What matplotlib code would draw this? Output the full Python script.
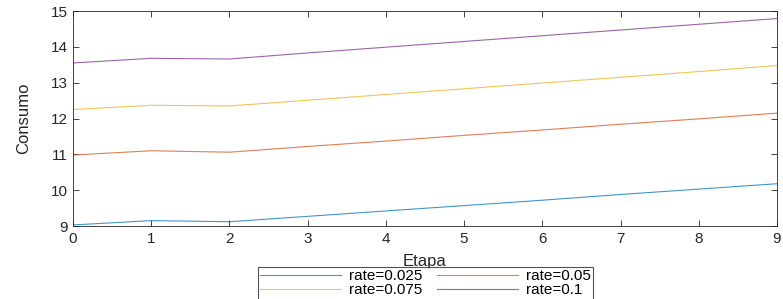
import matplotlib
matplotlib.use("Agg")
import matplotlib.pyplot as plt

etapa = [0, 1, 2, 3, 4, 5, 6, 7, 8, 9]
labels = ["rate=0.025", "rate=0.05", "rate=0.075", "rate=0.1"]
c_025 = [9.03, 9.15, 9.12, 9.27, 9.42, 9.57, 9.72, 9.88, 10.03, 10.18]
c_050 = [10.98, 11.10, 11.06, 11.22, 11.37, 11.53, 11.68, 11.84, 11.99, 12.15]
c_075 = [12.25, 12.37, 12.35, 12.51, 12.67, 12.83, 12.99, 13.15, 13.31, 13.48]
c_100 = [13.55, 13.68, 13.66, 13.83, 13.99, 14.15, 14.31, 14.47, 14.63, 14.79]
series = [c_025, c_050, c_075, c_100]
colors = ["#0072BD", "#D95319", "#EDB120", "#7E2F8E"]

plt.rcParams['font.family'] = ['Liberation Sans', 'DejaVu Sans']

fig = plt.figure(figsize=(7.83, 2.99), dpi=100)
ax = fig.add_axes([0.0932, 0.2441, 0.8991, 0.7191])
handles = []
for s, c, l in zip(series, colors, labels):
    handles += ax.plot(etapa, s, color=c, lw=0.8, alpha=0.75, label=l)

ax.set_xlim(0, 9)
ax.set_ylim(9, 15)
ax.set_xticks(range(0, 10))
ax.set_yticks(range(9, 16))
ax.tick_params(direction='in', top=True, right=True, labelsize=11, length=4,
               width=0.6, colors='#262626', pad=4)
for sp in ax.spines.values():
    sp.set_linewidth(0.6)
    sp.set_color('#262626')
ax.set_xlabel("Etapa", fontsize=12, labelpad=6, color='#262626')
ax.set_ylabel("Consumo", fontsize=12, labelpad=14, color='#262626')

# row-wise order like the reference (matplotlib fills legend column-wise)
order = [0, 2, 1, 3]
leg = fig.legend([handles[i] for i in order], [labels[i] for i in order],
                 loc='upper center', bbox_to_anchor=(0.5434, 1 - 267/299),
                 ncol=2, fontsize=11, frameon=True, fancybox=False,
                 handlelength=5.3, columnspacing=1.0, handletextpad=0.5,
                 borderpad=0.15, labelspacing=0.0, borderaxespad=0)
leg.get_frame().set_edgecolor('#262626')
leg.get_frame().set_linewidth(0.8)

fig.savefig("out.png", dpi=100)
